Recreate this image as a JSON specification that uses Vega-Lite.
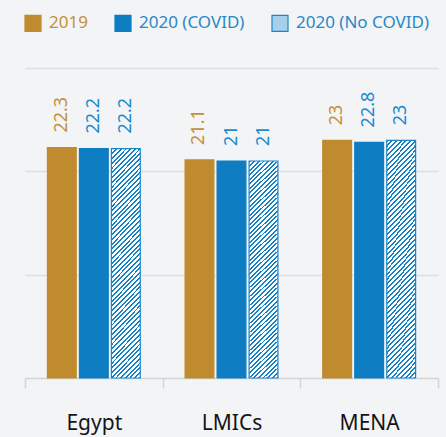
{
  "$schema": "https://vega.github.io/schema/vega-lite/v6.json",
  "autosize": "none",
  "width": 413,
  "height": 310,
  "padding": {"left": 25, "top": 68, "right": 8, "bottom": 59},
  "background": "#f3f4f6",
  "config": {"view": {"stroke": null}, "font": "Noto Sans"},
  "data": {"values": [
    {"group": "Egypt", "series": "2019", "value": 22.3},
    {"group": "Egypt", "series": "2020 (COVID)", "value": 22.2},
    {"group": "Egypt", "series": "2020 (No COVID)", "value": 22.2},
    {"group": "LMICs", "series": "2019", "value": 21.1},
    {"group": "LMICs", "series": "2020 (COVID)", "value": 21},
    {"group": "LMICs", "series": "2020 (No COVID)", "value": 21},
    {"group": "MENA", "series": "2019", "value": 23},
    {"group": "MENA", "series": "2020 (COVID)", "value": 22.8},
    {"group": "MENA", "series": "2020 (No COVID)", "value": 23}
  ]},
  "encoding": {
    "x": {"field": "group", "type": "nominal", "sort": null, "title": null,
      "scale": {"paddingInner": 0, "paddingOuter": 0},
      "axis": {"tickBand": "extent", "labelAngle": 0, "labelFontSize": 21, "labelColor": "#151515", "labelFont": "Noto Sans",
        "labelPadding": 24, "tickSize": 10, "tickWidth": 1.5, "tickColor": "#d3d4d8", "domainColor": "#d3d4d8", "domainWidth": 1.5, "grid": false}},
    "xOffset": {"field": "series", "type": "nominal", "sort": null,
      "scale": {"paddingInner": 0.1, "paddingOuter": 0.7}},
    "y": {"field": "value", "type": "quantitative", "title": null,
      "scale": {"domain": [0, 30], "nice": false},
      "axis": {"values": [10, 20, 30], "domain": false, "ticks": false, "labels": false, "gridColor": "#dcdde1", "gridWidth": 1.5}}
  },
  "layer": [
    {
      "mark": {"type": "bar", "strokeWidth": 1.2},
      "encoding": {
        "fill": {
          "condition": {"test": "datum.series === '2020 (No COVID)'", "value": {"gradient": "linear", "x1": 0, "y1": 0, "x2": 0.154, "y2": 1.2, "stops": [
            {"offset": 0, "color": "#1580c4"}, {"offset": 0.007, "color": "#1580c4"}, {"offset": 0.007, "color": "#ffffff"}, {"offset": 0.017, "color": "#ffffff"},
            {"offset": 0.017, "color": "#1580c4"}, {"offset": 0.024, "color": "#1580c4"}, {"offset": 0.024, "color": "#ffffff"}, {"offset": 0.034, "color": "#ffffff"},
            {"offset": 0.034, "color": "#1580c4"}, {"offset": 0.041, "color": "#1580c4"}, {"offset": 0.041, "color": "#ffffff"}, {"offset": 0.051, "color": "#ffffff"},
            {"offset": 0.051, "color": "#1580c4"}, {"offset": 0.058, "color": "#1580c4"}, {"offset": 0.058, "color": "#ffffff"}, {"offset": 0.068, "color": "#ffffff"},
            {"offset": 0.068, "color": "#1580c4"}, {"offset": 0.075, "color": "#1580c4"}, {"offset": 0.075, "color": "#ffffff"}, {"offset": 0.085, "color": "#ffffff"},
            {"offset": 0.085, "color": "#1580c4"}, {"offset": 0.092, "color": "#1580c4"}, {"offset": 0.092, "color": "#ffffff"}, {"offset": 0.102, "color": "#ffffff"},
            {"offset": 0.102, "color": "#1580c4"}, {"offset": 0.109, "color": "#1580c4"}, {"offset": 0.109, "color": "#ffffff"}, {"offset": 0.119, "color": "#ffffff"},
            {"offset": 0.119, "color": "#1580c4"}, {"offset": 0.126, "color": "#1580c4"}, {"offset": 0.126, "color": "#ffffff"}, {"offset": 0.136, "color": "#ffffff"},
            {"offset": 0.136, "color": "#1580c4"}, {"offset": 0.143, "color": "#1580c4"}, {"offset": 0.143, "color": "#ffffff"}, {"offset": 0.153, "color": "#ffffff"},
            {"offset": 0.153, "color": "#1580c4"}, {"offset": 0.16, "color": "#1580c4"}, {"offset": 0.16, "color": "#ffffff"}, {"offset": 0.17, "color": "#ffffff"},
            {"offset": 0.17, "color": "#1580c4"}, {"offset": 0.177, "color": "#1580c4"}, {"offset": 0.177, "color": "#ffffff"}, {"offset": 0.187, "color": "#ffffff"},
            {"offset": 0.187, "color": "#1580c4"}, {"offset": 0.194, "color": "#1580c4"}, {"offset": 0.194, "color": "#ffffff"}, {"offset": 0.204, "color": "#ffffff"},
            {"offset": 0.204, "color": "#1580c4"}, {"offset": 0.211, "color": "#1580c4"}, {"offset": 0.211, "color": "#ffffff"}, {"offset": 0.221, "color": "#ffffff"},
            {"offset": 0.221, "color": "#1580c4"}, {"offset": 0.228, "color": "#1580c4"}, {"offset": 0.228, "color": "#ffffff"}, {"offset": 0.238, "color": "#ffffff"},
            {"offset": 0.238, "color": "#1580c4"}, {"offset": 0.245, "color": "#1580c4"}, {"offset": 0.245, "color": "#ffffff"}, {"offset": 0.255, "color": "#ffffff"},
            {"offset": 0.255, "color": "#1580c4"}, {"offset": 0.262, "color": "#1580c4"}, {"offset": 0.262, "color": "#ffffff"}, {"offset": 0.272, "color": "#ffffff"},
            {"offset": 0.272, "color": "#1580c4"}, {"offset": 0.279, "color": "#1580c4"}, {"offset": 0.279, "color": "#ffffff"}, {"offset": 0.289, "color": "#ffffff"},
            {"offset": 0.289, "color": "#1580c4"}, {"offset": 0.296, "color": "#1580c4"}, {"offset": 0.296, "color": "#ffffff"}, {"offset": 0.306, "color": "#ffffff"},
            {"offset": 0.306, "color": "#1580c4"}, {"offset": 0.313, "color": "#1580c4"}, {"offset": 0.313, "color": "#ffffff"}, {"offset": 0.323, "color": "#ffffff"},
            {"offset": 0.323, "color": "#1580c4"}, {"offset": 0.33, "color": "#1580c4"}, {"offset": 0.33, "color": "#ffffff"}, {"offset": 0.34, "color": "#ffffff"},
            {"offset": 0.34, "color": "#1580c4"}, {"offset": 0.347, "color": "#1580c4"}, {"offset": 0.347, "color": "#ffffff"}, {"offset": 0.357, "color": "#ffffff"},
            {"offset": 0.357, "color": "#1580c4"}, {"offset": 0.364, "color": "#1580c4"}, {"offset": 0.364, "color": "#ffffff"}, {"offset": 0.374, "color": "#ffffff"},
            {"offset": 0.374, "color": "#1580c4"}, {"offset": 0.381, "color": "#1580c4"}, {"offset": 0.381, "color": "#ffffff"}, {"offset": 0.391, "color": "#ffffff"},
            {"offset": 0.391, "color": "#1580c4"}, {"offset": 0.398, "color": "#1580c4"}, {"offset": 0.398, "color": "#ffffff"}, {"offset": 0.408, "color": "#ffffff"},
            {"offset": 0.408, "color": "#1580c4"}, {"offset": 0.415, "color": "#1580c4"}, {"offset": 0.415, "color": "#ffffff"}, {"offset": 0.425, "color": "#ffffff"},
            {"offset": 0.425, "color": "#1580c4"}, {"offset": 0.432, "color": "#1580c4"}, {"offset": 0.432, "color": "#ffffff"}, {"offset": 0.442, "color": "#ffffff"},
            {"offset": 0.442, "color": "#1580c4"}, {"offset": 0.449, "color": "#1580c4"}, {"offset": 0.449, "color": "#ffffff"}, {"offset": 0.459, "color": "#ffffff"},
            {"offset": 0.459, "color": "#1580c4"}, {"offset": 0.466, "color": "#1580c4"}, {"offset": 0.466, "color": "#ffffff"}, {"offset": 0.476, "color": "#ffffff"},
            {"offset": 0.476, "color": "#1580c4"}, {"offset": 0.483, "color": "#1580c4"}, {"offset": 0.483, "color": "#ffffff"}, {"offset": 0.493, "color": "#ffffff"},
            {"offset": 0.493, "color": "#1580c4"}, {"offset": 0.5, "color": "#1580c4"}, {"offset": 0.5, "color": "#ffffff"}, {"offset": 0.51, "color": "#ffffff"},
            {"offset": 0.51, "color": "#1580c4"}, {"offset": 0.517, "color": "#1580c4"}, {"offset": 0.517, "color": "#ffffff"}, {"offset": 0.527, "color": "#ffffff"},
            {"offset": 0.527, "color": "#1580c4"}, {"offset": 0.534, "color": "#1580c4"}, {"offset": 0.534, "color": "#ffffff"}, {"offset": 0.544, "color": "#ffffff"},
            {"offset": 0.544, "color": "#1580c4"}, {"offset": 0.551, "color": "#1580c4"}, {"offset": 0.551, "color": "#ffffff"}, {"offset": 0.561, "color": "#ffffff"},
            {"offset": 0.561, "color": "#1580c4"}, {"offset": 0.568, "color": "#1580c4"}, {"offset": 0.568, "color": "#ffffff"}, {"offset": 0.578, "color": "#ffffff"},
            {"offset": 0.578, "color": "#1580c4"}, {"offset": 0.585, "color": "#1580c4"}, {"offset": 0.585, "color": "#ffffff"}, {"offset": 0.595, "color": "#ffffff"},
            {"offset": 0.595, "color": "#1580c4"}, {"offset": 0.602, "color": "#1580c4"}, {"offset": 0.602, "color": "#ffffff"}, {"offset": 0.612, "color": "#ffffff"},
            {"offset": 0.612, "color": "#1580c4"}, {"offset": 0.619, "color": "#1580c4"}, {"offset": 0.619, "color": "#ffffff"}, {"offset": 0.629, "color": "#ffffff"},
            {"offset": 0.629, "color": "#1580c4"}, {"offset": 0.636, "color": "#1580c4"}, {"offset": 0.636, "color": "#ffffff"}, {"offset": 0.646, "color": "#ffffff"},
            {"offset": 0.646, "color": "#1580c4"}, {"offset": 0.653, "color": "#1580c4"}, {"offset": 0.653, "color": "#ffffff"}, {"offset": 0.663, "color": "#ffffff"},
            {"offset": 0.663, "color": "#1580c4"}, {"offset": 0.67, "color": "#1580c4"}, {"offset": 0.67, "color": "#ffffff"}, {"offset": 0.68, "color": "#ffffff"},
            {"offset": 0.68, "color": "#1580c4"}, {"offset": 0.687, "color": "#1580c4"}, {"offset": 0.687, "color": "#ffffff"}, {"offset": 0.697, "color": "#ffffff"},
            {"offset": 0.697, "color": "#1580c4"}, {"offset": 0.704, "color": "#1580c4"}, {"offset": 0.704, "color": "#ffffff"}, {"offset": 0.714, "color": "#ffffff"},
            {"offset": 0.714, "color": "#1580c4"}, {"offset": 0.721, "color": "#1580c4"}, {"offset": 0.721, "color": "#ffffff"}, {"offset": 0.731, "color": "#ffffff"},
            {"offset": 0.731, "color": "#1580c4"}, {"offset": 0.738, "color": "#1580c4"}, {"offset": 0.738, "color": "#ffffff"}, {"offset": 0.748, "color": "#ffffff"},
            {"offset": 0.748, "color": "#1580c4"}, {"offset": 0.755, "color": "#1580c4"}, {"offset": 0.755, "color": "#ffffff"}, {"offset": 0.765, "color": "#ffffff"},
            {"offset": 0.765, "color": "#1580c4"}, {"offset": 0.772, "color": "#1580c4"}, {"offset": 0.772, "color": "#ffffff"}, {"offset": 0.782, "color": "#ffffff"},
            {"offset": 0.782, "color": "#1580c4"}, {"offset": 0.789, "color": "#1580c4"}, {"offset": 0.789, "color": "#ffffff"}, {"offset": 0.799, "color": "#ffffff"},
            {"offset": 0.799, "color": "#1580c4"}, {"offset": 0.806, "color": "#1580c4"}, {"offset": 0.806, "color": "#ffffff"}, {"offset": 0.816, "color": "#ffffff"},
            {"offset": 0.816, "color": "#1580c4"}, {"offset": 0.823, "color": "#1580c4"}, {"offset": 0.823, "color": "#ffffff"}, {"offset": 0.833, "color": "#ffffff"},
            {"offset": 0.833, "color": "#1580c4"}, {"offset": 0.84, "color": "#1580c4"}, {"offset": 0.84, "color": "#ffffff"}, {"offset": 0.85, "color": "#ffffff"},
            {"offset": 0.85, "color": "#1580c4"}, {"offset": 0.857, "color": "#1580c4"}, {"offset": 0.857, "color": "#ffffff"}, {"offset": 0.867, "color": "#ffffff"},
            {"offset": 0.867, "color": "#1580c4"}, {"offset": 0.874, "color": "#1580c4"}, {"offset": 0.874, "color": "#ffffff"}, {"offset": 0.884, "color": "#ffffff"},
            {"offset": 0.884, "color": "#1580c4"}, {"offset": 0.891, "color": "#1580c4"}, {"offset": 0.891, "color": "#ffffff"}, {"offset": 0.901, "color": "#ffffff"},
            {"offset": 0.901, "color": "#1580c4"}, {"offset": 0.908, "color": "#1580c4"}, {"offset": 0.908, "color": "#ffffff"}, {"offset": 0.918, "color": "#ffffff"},
            {"offset": 0.918, "color": "#1580c4"}, {"offset": 0.925, "color": "#1580c4"}, {"offset": 0.925, "color": "#ffffff"}, {"offset": 0.935, "color": "#ffffff"},
            {"offset": 0.935, "color": "#1580c4"}, {"offset": 0.942, "color": "#1580c4"}, {"offset": 0.942, "color": "#ffffff"}, {"offset": 0.952, "color": "#ffffff"},
            {"offset": 0.952, "color": "#1580c4"}, {"offset": 0.959, "color": "#1580c4"}, {"offset": 0.959, "color": "#ffffff"}, {"offset": 1, "color": "#ffffff"}
          ]}},
          "field": "series", "type": "nominal", "title": null,
          "scale": {"domain": ["2019", "2020 (COVID)", "2020 (No COVID)"], "range": ["#c08b2f", "#0e7dc1", "#a6cfe9"]},
          "legend": {"orient": "none", "legendX": -1, "legendY": -54, "direction": "horizontal", "padding": 0,
            "symbolType": "square", "symbolSize": 256, "symbolStrokeWidth": 1.2, "labelFontSize": 17, "labelFont": "Noto Sans",
            "labelOffset": 7, "columnPadding": 24,
            "labelColor": {"expr": "datum.label === '2019' ? '#c4913a' : '#2a87c8'"}}
        },
        "stroke": {"field": "series", "type": "nominal", "legend": null,
          "scale": {"domain": ["2019", "2020 (COVID)", "2020 (No COVID)"], "range": ["#c08b2f", "#0e7dc1", "#1a85c8"]}}
      }
    },
    {
      "mark": {"type": "text", "angle": -90, "align": "left", "baseline": "middle", "dx": 15, "fontSize": 18, "font": "Noto Sans"},
      "encoding": {
        "text": {"field": "value", "type": "quantitative"},
        "color": {"field": "series", "type": "nominal", "legend": null,
          "scale": {"domain": ["2019", "2020 (COVID)", "2020 (No COVID)"], "range": ["#c4913a", "#2189cf", "#2189cf"]}}
      }
    }
  ]
}
